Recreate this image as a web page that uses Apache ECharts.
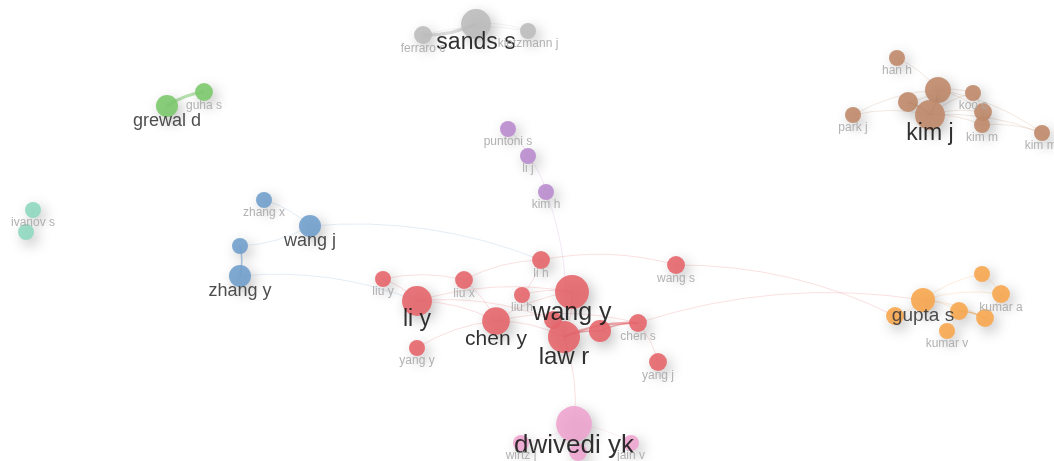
<!DOCTYPE html>
<html>
	<head>
		<meta charset="utf-8" />
		<title></title>
		<script src="https://cdn.jsdelivr.net/npm/echarts@6/dist/echarts.min.js"></script>
		<style>
			html, body { margin: 0; padding: 0; background: #fff; }
			#dvmap { width: 1054px; height: 461px; }
		</style>
	</head>
	<body>
		<div id="dvmap"></div>
		<script>
			// author nodes (map coordinates, weight, cluster)
			var names = ['sands s','ferraro c','kietzmann j','han h','b1','b2','kim j','koo c','b3','kim m','kim mj','park j',
				'grewal d','guha s','ivanov s','t1','zhang x','wang j','bl1','zhang y','puntoni s','li j','kim h',
				'li h','wang s','liu y','liu x','li y','liu h','wang y','chen y','r1','law r','r2','chen s','yang y','yang j',
				'gupta s','o1','o2','kumar a','o3','o4','kumar v','dwivedi yk','wirtz j','jain v','p1'];
			var labels = ['sands s','ferraro c','kietzmann j','han h','','','kim j','koo c','','kim m','kim mj','park j',
				'grewal d','guha s','ivanov s','','zhang x','wang j','','zhang y','puntoni s','li j','kim h',
				'li h','wang s','liu y','liu x','li y','liu h','wang y','chen y','','law r','','chen s','yang y','yang j',
				'gupta s','','','kumar a','','','kumar v','dwivedi yk','wirtz j','jain v',''];
			var xs = [476,423,528,897,938,908,930,973,983,982,1042,853,
				167,204,33,26,264,310,240,240,508,528,546,
				541,676,383,464,417,522,572,496,553,564,600,638,417,658,
				923,895,982,1001,959,985,947,574,521,631,578];
			var ys = [24,35,31,58,90,102,115,93,112,125,133,115,
				106,92,210,232,200,226,246,276,129,156,192,
				260,265,279,280,301,295,292,321,320,337,331,323,348,362,
				300,316,274,294,311,318,331,424,443,443,452];
			var weights = [14,5,4,4,10.5,6.3,14,4,5,4,4,4,
				7.6,5,4,4,4,7.6,4,7.6,4,4,4,
				5,5,4,5,14,4,18,12,5,16,7.6,5,4,5,
				9,5,4,5,5,5,4,20,4,4,5];
			var clusters = [0,0,0,1,1,1,1,1,1,1,1,1,
				2,2,3,3,4,4,4,4,5,5,5,
				6,6,6,6,6,6,6,6,6,6,6,6,6,6,
				7,7,7,7,7,7,7,8,8,8,8];
			var clusterColors = ['#bdbdbd','#c08a6a','#7cc96d','#8fd8c0','#72a0cd','#b98cce','#e6666b','#f7a74f','#f0a5d0'];

			// co-authorship links: source, target, strength
			var links = [
				[0,1,4],[0,2,1],[1,2,1],
				[3,4,1],[4,6,2],[5,6,2],[4,5,1],[11,6,1],[11,4,1],[6,7,1],[6,8,1],[4,7,1],[4,8,1],[7,8,1],[8,9,1],[6,9,1],[6,10,1],[9,10,1],[4,10,1],
				[12,13,4],[14,15,1],
				[16,17,1],[17,18,1],[18,19,2],[19,27,1],[17,23,1],
				[20,21,1],[21,22,1],[22,32,1],
				[25,26,1],[26,23,1],[23,28,1],[23,24,1],[25,27,1],[27,30,1],[27,29,1],[26,30,1],[28,29,1],[30,32,1],[30,29,1],[29,32,1],
				[31,32,1],[32,33,2],[32,34,3],[33,34,2],[34,36,1],[35,30,1],[27,31,1],[30,34,1],
				[24,38,1],[34,37,1],[32,44,1],
				[37,38,1],[37,39,1],[37,40,1],[37,41,1],[41,42,2],[37,42,1],[40,42,1],[41,43,1],[39,40,1],
				[44,45,1],[44,46,1],[44,47,1]
			];

			function radius(w){ return 4*Math.sqrt(w); }

			var nodes = [];
			for(var i=0;i<names.length;i++){
				var r = radius(weights[i]);
				var big = r >= 10;
				nodes.push({
					name: names[i],
					value: [xs[i], ys[i]],
					symbolSize: 2*r,
					itemStyle: { color: clusterColors[clusters[i]] },
					label: {
						show: labels[i] != '',
						formatter: labels[i],
						position: 'inside',
						offset: [0, big ? r+4 : r+5],
						fontSize: big ? Math.round(1.2*(r+4)) : 12,
						color: big ? (r >= 13 ? '#1a1a1a' : '#3a3a3a') : '#a8a8a8'
					}
				});
			}
			var edges = links.map(function(l){
				return {
					source: l[0], target: l[1],
					lineStyle: { width: 0.8*l[2], color: clusterColors[clusters[l[0]]], opacity: l[2] > 1 ? 0.55 : 0.25 }
				};
			});

			var chart = echarts.init(document.getElementById('dvmap'));
			var option = {
				animation: false,
				grid: { left: 0, right: 0, top: 0, bottom: 0 },
				xAxis: { type: 'value', min: 0, max: 1054, show: false },
				yAxis: { type: 'value', min: 0, max: 461, inverse: true, show: false },
				series: [{
					type: 'graph',
					coordinateSystem: 'cartesian2d',
					layout: 'none',
					data: nodes,
					links: edges,
					itemStyle: {
						opacity: 0.9,
						shadowBlur: 14,
						shadowColor: 'rgba(0,0,0,0.28)',
						shadowOffsetX: 4,
						shadowOffsetY: 5
					},
					lineStyle: { curveness: 0.12 },
					label: { fontFamily: 'Liberation Sans, Arial, sans-serif' },
					emphasis: { disabled: true }
				}]
			};
			chart.setOption(option);
		</script>
	</body>
</html>
